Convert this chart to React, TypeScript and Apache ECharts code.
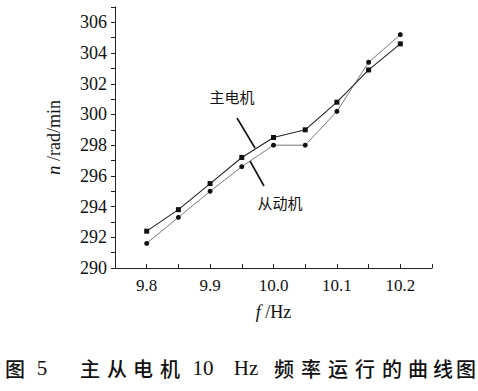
import React, { useEffect, useRef } from "react";
import * as echarts from "echarts";

const freqs = [9.8, 9.85, 9.9, 9.95, 10.0, 10.05, 10.1, 10.15, 10.2];
const masterSpeed = [292.4, 293.8, 295.5, 297.2, 298.5, 299.0, 300.8, 302.9, 304.6];
const slaveSpeed = [291.6, 293.3, 295.0, 296.6, 298.0, 298.0, 300.2, 303.4, 305.2];
const masterName = "主电机";
const slaveName = "从动机";
const captionTokens = ["图", "5", "主", "从", "电", "机", "10", "Hz", "频", "率", "运", "行", "的", "曲", "线", "图"];
const captionX = [15, 42, 90, 117, 143, 170, 203, 246, 284, 311, 338, 365, 392, 418, 443, 466];

const SERIF = "Liberation Serif";
const CJK = "Noto Sans CJK SC";

export default function App() {
  const ref = useRef<HTMLDivElement>(null);
  useEffect(() => {
    if (!ref.current) return;
    const chart = echarts.init(ref.current, undefined, { renderer: "svg" });
    const graphics: any[] = [
      { type: "line", shape: { x1: 237, y1: 118, x2: 255, y2: 148 }, style: { stroke: "#111", lineWidth: 1.6 } },
      { type: "line", shape: { x1: 250, y1: 161, x2: 264, y2: 186 }, style: { stroke: "#111", lineWidth: 1.6 } },
      { type: "text", x: 232, y: 96, style: { text: masterName, fontSize: 15, fontFamily: CJK, fill: "#111", align: "center", verticalAlign: "middle" } },
      { type: "text", x: 280, y: 202, style: { text: slaveName, fontSize: 15, fontFamily: CJK, fill: "#111", align: "center", verticalAlign: "middle" } },
    ];
    captionTokens.forEach((t, i) => {
      const isLatin = /[0-9A-Za-z]/.test(t);
      graphics.push({
        type: "text",
        x: captionX[i],
        y: 368,
        style: {
          text: t,
          fontSize: isLatin ? 21 : 20,
          fontFamily: isLatin ? SERIF : CJK,
          fontWeight: isLatin ? "normal" : 500,
          fill: "#111",
          align: "center",
          verticalAlign: "middle",
        },
      });
    });
    chart.setOption({
      animation: false,
      backgroundColor: "#fff",
      textStyle: { fontFamily: SERIF, color: "#111" },
      grid: { left: 115, right: 46, top: 7, bottom: 123, containLabel: false },
      xAxis: {
        type: "value",
        min: 9.75,
        max: 10.25,
        interval: 0.05,
        name: "{i|f} {t|/Hz}",
        nameLocation: "middle",
        nameGap: 35,
        nameTextStyle: {
          color: "#111",
          fontSize: 18,
          fontFamily: SERIF,
          rich: {
            i: { fontStyle: "italic", fontSize: 18, fontFamily: SERIF, color: "#111" },
            t: { fontSize: 18, fontFamily: SERIF, color: "#111" },
          },
        },
        axisLine: { lineStyle: { color: "#222", width: 1 } },
        axisTick: { inside: true, length: 4, lineStyle: { color: "#222" } },
        splitLine: { show: false },
        axisLabel: {
          color: "#111",
          fontSize: 17,
          fontFamily: SERIF,
          margin: 9,
          formatter: (v: number) => {
            const r = Math.round(v * 10);
            return Math.abs(v * 10 - r) < 1e-6 && v > 9.76 && v < 10.24 ? (r / 10).toFixed(1) : "";
          },
        },
      },
      yAxis: {
        type: "value",
        min: 290,
        max: 307,
        interval: 1,
        name: "{i|n} {t|/rad/min}",
        nameLocation: "middle",
        nameGap: 52,
        nameTextStyle: {
          color: "#111",
          fontSize: 18,
          fontFamily: SERIF,
          rich: {
            i: { fontStyle: "italic", fontSize: 19, fontFamily: SERIF, color: "#111" },
            t: { fontSize: 18, fontFamily: SERIF, color: "#111" },
          },
        },
        axisLine: { show: true, lineStyle: { color: "#222", width: 1 } },
        axisTick: { show: true, inside: false, length: 4, lineStyle: { color: "#222" } },
        splitLine: { show: false },
        axisLabel: {
          color: "#111",
          fontSize: 18,
          fontFamily: SERIF,
          margin: 8,
          formatter: (v: number) => (Math.round(v) % 2 === 0 && v < 307 ? String(Math.round(v)) : ""),
        },
      },
      series: [
        {
          name: masterName,
          type: "line",
          data: freqs.map((f, i) => [f, masterSpeed[i]]),
          symbol: "rect",
          symbolSize: 5,
          lineStyle: { color: "#222", width: 1.1 },
          itemStyle: { color: "#111" },
        },
        {
          name: slaveName,
          type: "line",
          data: freqs.map((f, i) => [f, slaveSpeed[i]]),
          symbol: "circle",
          symbolSize: 5,
          lineStyle: { color: "#555", width: 0.8 },
          itemStyle: { color: "#111" },
        },
      ],
      graphic: graphics,
    });
    return () => chart.dispose();
  }, []);
  return <div ref={ref} style={{ width: 478, height: 391, position: "absolute", left: 0, top: 0 }} />;
}
